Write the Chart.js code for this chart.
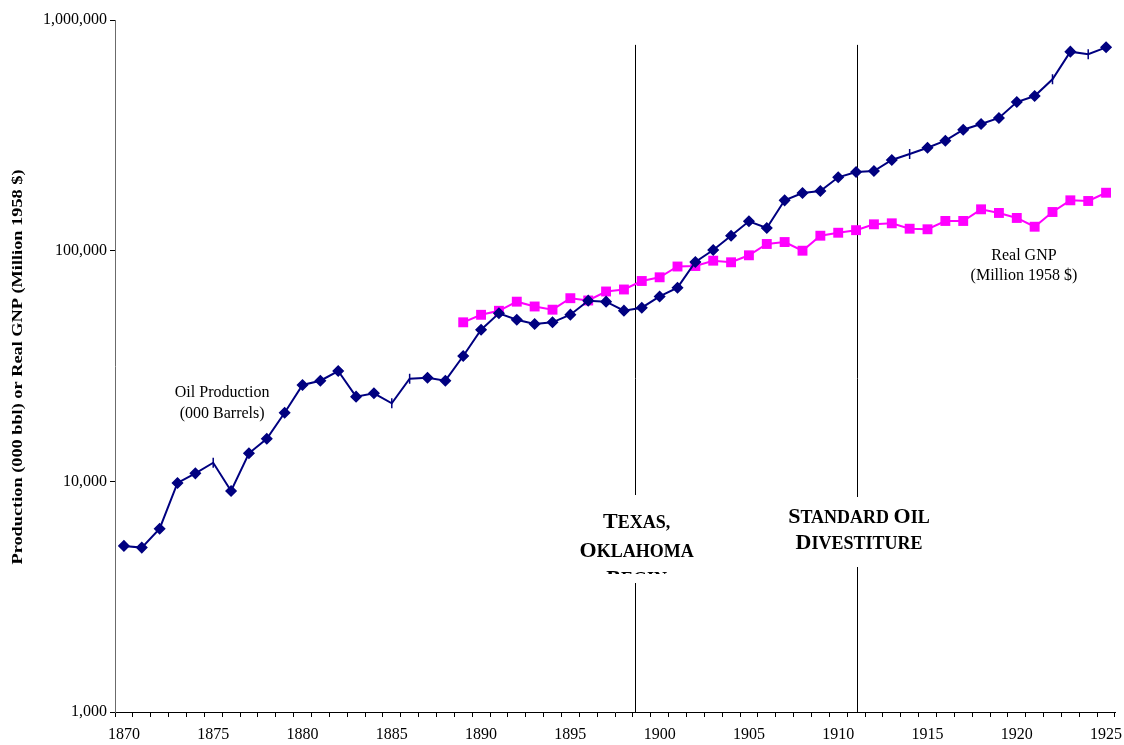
<!DOCTYPE html>
<html>
<head>
<meta charset="utf-8">
<script src="https://cdn.jsdelivr.net/npm/chart.js@4.4.1/dist/chart.umd.min.js"></script>
<style>
  html, body { margin: 0; padding: 0; background: #ffffff; }
  #wrap { width: 1124px; height: 745px; position: relative; }
  canvas { display: block; }
</style>
</head>
<body>
<div id="wrap"><canvas id="chart" width="1124" height="745"></canvas></div>
<script>
// Years on the category axis
const years = [
  1870, 1871, 1872, 1873, 1874, 1875, 1876, 1877, 1878, 1879,
  1880, 1881, 1882, 1883, 1884, 1885, 1886, 1887, 1888, 1889,
  1890, 1891, 1892, 1893, 1894, 1895, 1896, 1897, 1898, 1899,
  1900, 1901, 1902, 1903, 1904, 1905, 1906, 1907, 1908, 1909,
  1910, 1911, 1912, 1913, 1914, 1915, 1916, 1917, 1918, 1919,
  1920, 1921, 1922, 1923, 1924, 1925
];

// U.S. crude oil production, thousand barrels
const oilProduction = [
  5250, 5160, 6230, 9840, 10830, 12040, 9080, 13230, 15300, 19840,
  26160, 27310, 30080, 23280, 24080, 21790, 27860, 28140, 27310, 34940,
  45430, 53520, 50190, 48090, 48910, 52780, 60700, 60100, 54930, 56590,
  63300, 69100, 89320, 100700, 116100, 134100, 125400, 165300, 177800, 181400,
  208000, 219300, 221500, 247200, 262400, 279500, 299700, 334500, 354100, 376000,
  441000, 468300, 553400, 728900, 710200, 761400
];

// Real GNP, million 1958 dollars (series starts in 1889)
const realGNP = [
  null, null, null, null, null, null, null, null, null, null,
  null, null, null, null, null, null, null, null, null, 48910,
  52720, 54870, 60100, 57280, 55480, 62220, 60810, 66530, 67870, 73880,
  76650, 85370, 85800, 90480, 89050, 95480, 106900, 109000, 99960, 116100,
  119600, 122700, 130100, 131400, 124500, 123800, 134500, 134500, 151100, 145700,
  138600, 127000, 147100, 165300, 164200, 178300
];

// Years whose oil marker is drawn as a short vertical dash
const dashYears = [1875, 1885, 1886, 1914, 1922, 1924];

// Logarithmic axis tick values
const yTicks = [1000, 10000, 100000, 1000000];

// Event markers: vertical rule with a small-caps caption
const events = [
  { year: 1898.6, lines: ['Texas,', 'Oklahoma', 'begin'], top: 8724, lineTop: 780000 },
  { year: 1911.05, lines: ['Standard Oil', 'Divestiture'], top: 8553, lineTop: 780000 }
];

const SERIF = '"Liberation Serif", "Times New Roman", Times, serif';

function fmt(v) {
  return v.toLocaleString('en-US');
}

function drawSmallCaps(ctx, text, cx, baseline, big, small) {
  const parts = [];
  text.split(' ').forEach((w, i) => {
    if (i) parts.push({ t: ' ', s: small });
    parts.push({ t: w[0].toUpperCase(), s: big });
    if (w.length > 1) parts.push({ t: w.slice(1).toUpperCase(), s: small });
  });
  let total = 0;
  parts.forEach(p => {
    ctx.font = 'bold ' + p.s + 'px ' + SERIF;
    p.w = ctx.measureText(p.t).width;
    total += p.w;
  });
  let x = cx - total / 2;
  ctx.textAlign = 'left';
  ctx.textBaseline = 'alphabetic';
  parts.forEach(p => {
    ctx.font = 'bold ' + p.s + 'px ' + SERIF;
    ctx.fillText(p.t, x, baseline);
    x += p.w;
  });
}

const annotationPlugin = {
  id: 'annotations',
  beforeDatasetsDraw(chart) {
    const ctx = chart.ctx;
    const xs = chart.scales.x, ys = chart.scales.y;
    ctx.save();
    ctx.strokeStyle = '#000000';
    ctx.lineWidth = 1;
    events.forEach(ev => {
      const x = Math.round(xs.getPixelForValue(ev.year - years[0])) + 0.5;
      ctx.beginPath();
      ctx.moveTo(x, ys.getPixelForValue(ev.lineTop));
      ctx.lineTo(x, ys.getPixelForValue(yTicks[0]));
      ctx.stroke();
    });
    ctx.restore();
  },
  afterDatasetsDraw(chart) {
    const ctx = chart.ctx;
    const xs = chart.scales.x, ys = chart.scales.y;
    ctx.save();
    ctx.fillStyle = '#000000';

    // Series captions
    ctx.font = '16px ' + SERIF;
    ctx.textAlign = 'center';
    ctx.textBaseline = 'middle';
    let x = xs.getPixelForValue(1875.5 - years[0]);
    let y = ys.getPixelForValue(21860);
    ctx.fillText('Oil Production', x, y - 10);
    ctx.fillText('(000 Barrels)', x, y + 11);

    x = xs.getPixelForValue(1920.4 - years[0]);
    y = ys.getPixelForValue(86000);
    ctx.fillText('Real GNP', x, y - 10);
    ctx.fillText('(Million 1958 $)', x, y + 10);

    // Event captions on white boxes
    events.forEach((ev, i) => {
      const cx = xs.getPixelForValue(ev.year - years[0]) + 2;
      const top = ys.getPixelForValue(ev.top);
      const boxH = i === 0 ? 88 : 70;
      const clipH = i === 0 ? 79 : 70;
      ctx.fillStyle = '#ffffff';
      ctx.fillRect(cx - 70, top, 140, boxH);
      ctx.save();
      ctx.beginPath();
      ctx.rect(cx - 70, top, 140, clipH);
      ctx.clip();
      ctx.fillStyle = '#000000';
      const first = i === 0 ? 33 : 26;
      const step = i === 0 ? 28.5 : 26.5;
      ev.lines.forEach((ln, k) => {
        drawSmallCaps(ctx, ln, cx, top + first + k * step, 22, 18);
      });
      ctx.restore();
    });

    // Vertical axis title
    ctx.save();
    ctx.translate(18, 367);
    ctx.rotate(-Math.PI / 2);
    ctx.font = 'bold 15px ' + SERIF;
    const title = 'Production (000 bbl) or Real GNP (Million 1958 $)';
    const w = ctx.measureText(title).width;
    ctx.scale(395 / w, 1);
    ctx.fillStyle = '#000000';
    ctx.textAlign = 'center';
    ctx.textBaseline = 'middle';
    ctx.fillText(title, 0, 0);
    ctx.restore();

    ctx.restore();
  }
};

const oilStyle = years.map(yr => dashYears.includes(yr) ? 'line' : 'rectRot');
const oilRotation = years.map(yr => dashYears.includes(yr) ? 90 : 0);

new Chart(document.getElementById('chart'), {
  type: 'line',
  data: {
    labels: years.map(String),
    datasets: [
      {
        label: 'Oil Production (000 Barrels)',
        data: oilProduction,
        borderColor: '#000080',
        backgroundColor: '#000080',
        borderWidth: 2,
        pointStyle: oilStyle,
        rotation: oilRotation,
        pointRadius: 5,
        pointBorderWidth: 1.5,
        pointHoverRadius: 5,
        tension: 0
      },
      {
        label: 'Real GNP (Million 1958 $)',
        data: realGNP,
        borderColor: '#ff00ff',
        backgroundColor: '#ff00ff',
        borderWidth: 2,
        pointStyle: 'rect',
        pointRadius: 7,
        pointBorderWidth: 0,
        pointHoverRadius: 7,
        tension: 0
      }
    ]
  },
  options: {
    responsive: false,
    maintainAspectRatio: false,
    animation: false,
    devicePixelRatio: 1,
    layout: { padding: { left: 0, right: 9, top: 20, bottom: 0 } },
    plugins: {
      legend: { display: false },
      tooltip: { enabled: false },
      title: { display: false }
    },
    scales: {
      x: {
        type: 'category',
        offset: true,
        grid: {
          offset: true,
          drawOnChartArea: false,
          drawTicks: true,
          tickLength: 5,
          color: '#000000'
        },
        border: { display: true, color: '#000000', width: 1 },
        ticks: {
          autoSkip: false,
          maxRotation: 0,
          minRotation: 0,
          padding: 8,
          color: '#000000',
          font: { family: SERIF, size: 16 },
          callback: function (val, idx) {
            const yr = years[idx];
            return yr % 5 === 0 ? String(yr) : '';
          }
        },
        afterFit(scale) {
          scale.height = 33;
          scale.paddingLeft = 0;
          scale.paddingRight = 0;
        }
      },
      y: {
        type: 'logarithmic',
        min: yTicks[0],
        max: yTicks[yTicks.length - 1],
        grid: {
          drawOnChartArea: false,
          drawTicks: true,
          tickLength: 5,
          color: '#000000'
        },
        border: { display: true, color: '#6b6b6b', width: 1 },
        afterBuildTicks(scale) {
          scale.ticks = yTicks.map(v => ({ value: v, major: true }));
        },
        ticks: {
          padding: 3,
          color: '#000000',
          font: { family: SERIF, size: 16 },
          callback: v => fmt(v)
        },
        afterFit(scale) {
          scale.width = 115;
          scale.paddingTop = 0;
          scale.paddingBottom = 0;
        }
      }
    }
  },
  plugins: [annotationPlugin]
});
</script>
</body>
</html>
